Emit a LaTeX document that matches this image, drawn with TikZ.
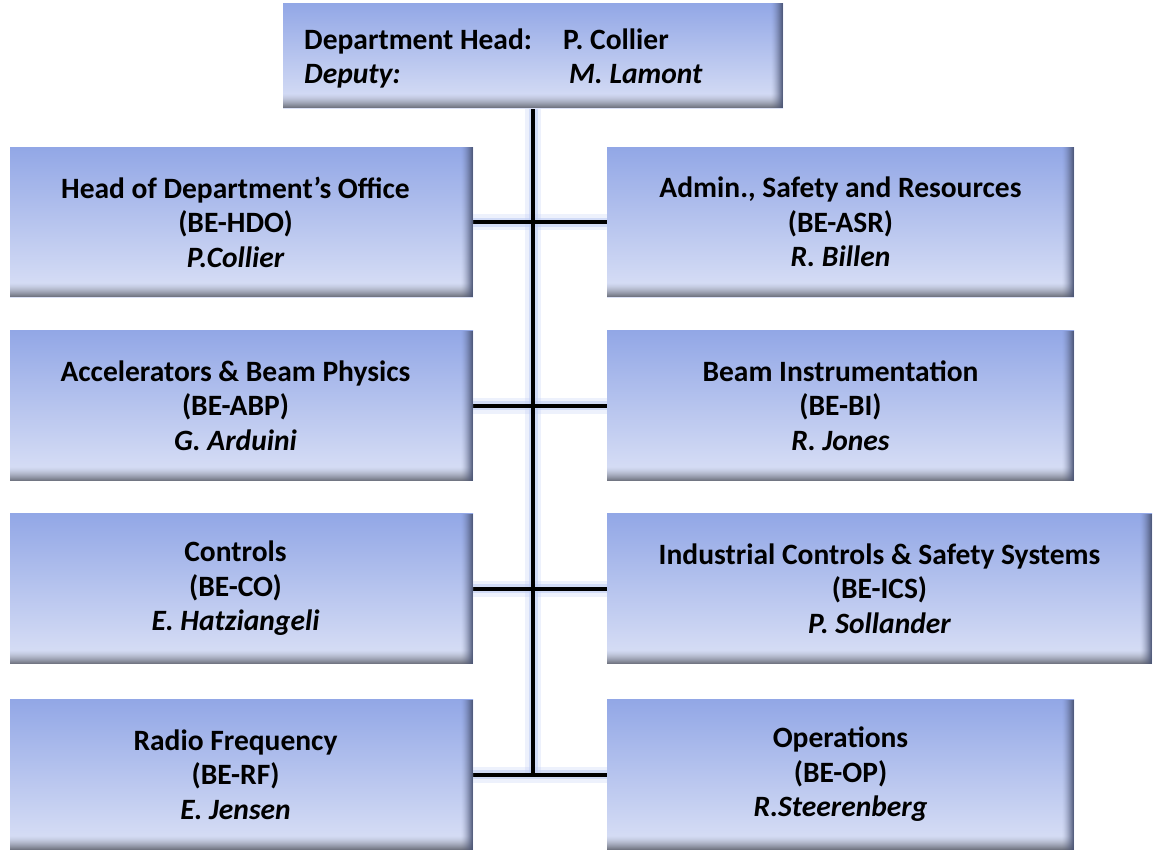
\documentclass[tikz,border=0pt]{standalone}
\usepackage{fontspec}
\setmainfont{Carlito}
\usetikzlibrary{backgrounds}

\definecolor{boxtop}{HTML}{92A7E6}
\definecolor{boxbot}{HTML}{DBE1F6}
\definecolor{edgeside}{HTML}{4A5474}
\definecolor{edgefoot}{HTML}{60646F}
\definecolor{halo}{HTML}{B8C7F3}

% pulls a centred line slightly to the left
\newcommand\lft{\hspace*{-12pt}}

\tikzset{
  unitbox/.style={
    inner sep=0pt, outer sep=0pt, align=center,
    top color=boxtop, bottom color=boxbot,
    font=\bfseries\fontsize{29.5}{34.5}\selectfont,
    path picture={
      % darker bevel along the lower edge, built from thin strips
      \foreach \k in {1,...,14} {
        \pgfmathsetmacro{\op}{0.85*(\k/14)^1.5}
        \pgfmathsetmacro{\ya}{15-\k}
        \pgfmathsetmacro{\yb}{14-\k}
        \fill[edgefoot, opacity=\op]
          ([yshift=\ya pt]path picture bounding box.south west)
          rectangle ([yshift=\yb pt]path picture bounding box.south east);
      }
      % darker bevel along the right edge
      \foreach \k in {1,...,12} {
        \pgfmathsetmacro{\op}{0.9*(\k/12)^1.6}
        \pgfmathsetmacro{\xa}{\k-13}
        \pgfmathsetmacro{\xb}{\k-12}
        \fill[edgeside, opacity=\op]
          ([xshift=\xa pt]path picture bounding box.north east)
          rectangle ([xshift=\xb pt]path picture bounding box.south east);
      }
    }},
  leftbox/.style={unitbox, minimum width=463pt, minimum height=150pt},
  rightbox/.style={unitbox, minimum width=467pt, minimum height=150pt},
  glowA/.style={halo, line width=16pt, opacity=0.25},
  glowB/.style={halo, line width=9pt, opacity=0.5},
  link/.style={black, line width=4pt},
}

\begin{document}
\begin{tikzpicture}[x=1pt, y=-1pt]
\useasboundingbox (0,0) rectangle (1154,852);

% department head
\node[unitbox, minimum width=500pt, minimum height=105pt] (head) at (533,55.5) {};
\node[anchor=west, inner sep=0pt, align=left,
      font=\bfseries\fontsize{29.5}{34}\selectfont] (headtxt) at (304,58)
  {\makebox[259pt][l]{Department Head:}P. Collier\\
   \makebox[265pt][l]{\itshape Deputy:}\itshape M. Lamont};

% groups, left column
\node[leftbox] (hdo) at (241.5,222)
  {\lft Head of Department’s Office\\\lft(BE-HDO)\\\lft\itshape P.Collier};
\node[leftbox] (abp) at (241.5,405.5)
  {\lft Accelerators \& Beam Physics\\\lft(BE-ABP)\\\lft\itshape G. Arduini};
\node[leftbox] (co) at (241.5,588.5)
  {\lft Controls\\\lft(BE-CO)\\\lft\itshape E. Hatziangeli};
\node[leftbox] (rf) at (241.5,774.5)
  {\lft Radio Frequency\\\lft(BE-RF)\\\lft\itshape E. Jensen};

% groups, right column
\node[rightbox] (asr) at (840.5,222)
  {Admin., Safety and Resources\\(BE-ASR)\\\itshape R. Billen};
\node[rightbox] (bi) at (840.5,405.5)
  {Beam Instrumentation\\(BE-BI)\\\itshape R. Jones};
\node[unitbox, minimum width=545pt, minimum height=150pt] (ics) at (879.5,588.5)
  {Industrial Controls \& Safety Systems\\(BE-ICS)\\\itshape P. Sollander};
\node[rightbox] (op) at (840.5,774.5)
  {Operations\\(BE-OP)\\\itshape R.Steerenberg};

% connectors
\begin{scope}[on background layer]
  \coordinate (trunkend) at (head.south |- rf.east);
  \foreach \s in {glowA, glowB, link} {
    \draw[\s] (head.south) -- (trunkend);
    \draw[\s] (hdo.east) -- (asr.west);
    \draw[\s] (abp.east) -- (bi.west);
    \draw[\s] (co.east) -- (co.east -| ics.west);
    \draw[\s] (rf.east) -- (op.west);
  }
\end{scope}
\end{tikzpicture}
\end{document}
